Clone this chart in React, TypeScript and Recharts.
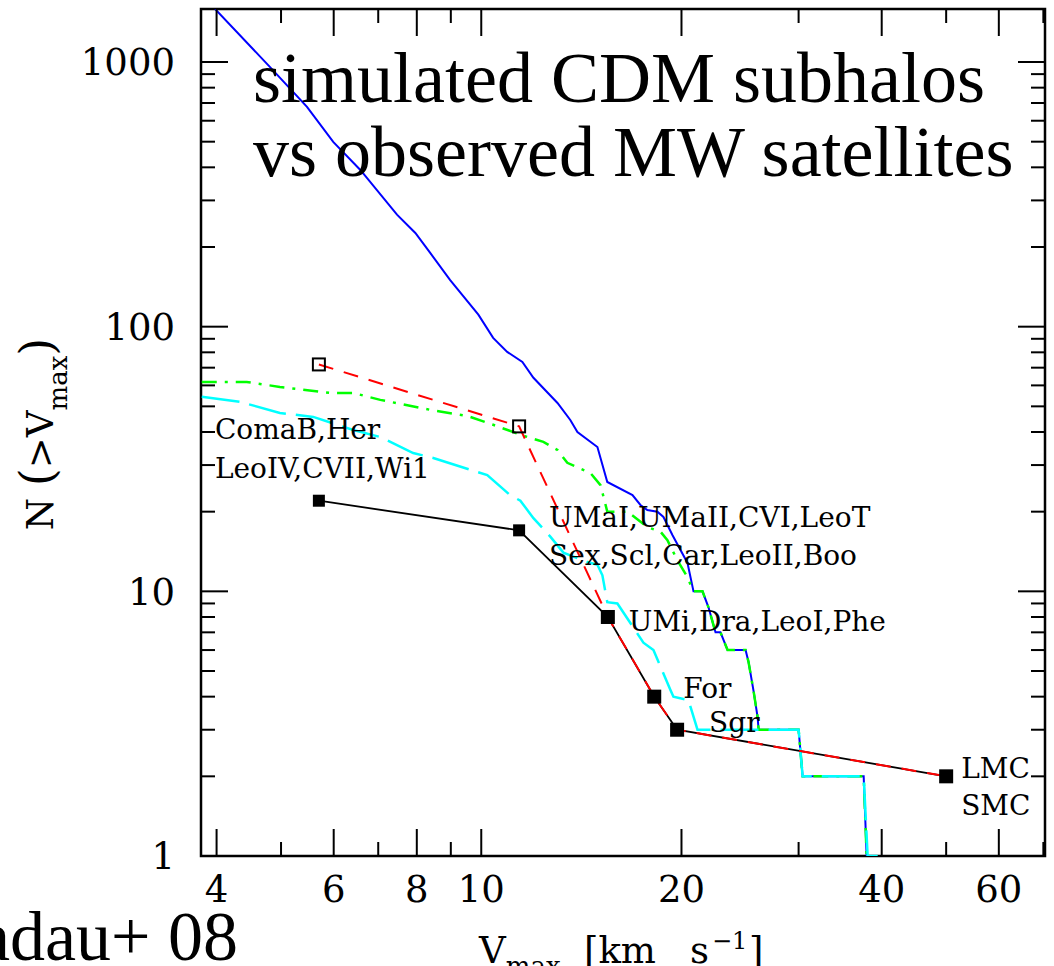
import React from 'react';
import { LineChart, Line, XAxis, YAxis, ReferenceArea } from 'recharts';

// Cumulative Vmax functions: simulated subhalos vs. Milky Way dwarfs
const X_DOMAIN: [number, number] = [3.79, 70.4];
const Y_DOMAIN: [number, number] = [1, 1586];

const xTicks = [4, 5, 6, 7, 8, 9, 10, 20, 30, 40, 50, 60, 70];
const xMajor = [4, 6, 8, 10, 20, 40, 60];
const yTicks = [
  1, 2, 3, 4, 5, 6, 7, 8, 9, 10, 20, 30, 40, 50, 60, 70, 80, 90, 100, 200, 300, 400, 500, 600,
  700, 800, 900, 1000,
];
const yMajor = [1, 10, 100, 1000];

// all subhalos (blue)
const subhaloV = [
  3.98, 4.81, 5.47, 5.99, 6.58, 7.47, 7.96, 8.38, 8.98, 9.9, 10.42, 10.94, 11.53, 11.98, 13.02,
  13.61, 13.95, 14.95, 15.47, 16.88, 17.35, 17.77, 18.4, 18.79, 19.39, 20.42, 20.85, 21.51, 21.96,
  22.5, 22.89, 23.46, 24.97, 25.23, 25.67, 26.03, 26.12, 30.0, 30.42, 37.58, 37.97,
];
const subhaloN = [
  1585, 959, 677, 499, 391, 265, 226, 190, 150, 111, 90.7, 80.3, 73.6, 64.1, 51.5, 44.4, 40.0,
  35.1, 25.9, 23.1, 21.2, 20.3, 20, 19.1, 16.3, 12.8, 10, 10, 8.7, 7, 7, 6, 6, 5.4, 4.2, 3.35, 3,
  3, 2, 2, 1,
];

// luminous subset, model A (green dot-dash)
const modelAV = [
  3.8, 4.44, 4.98, 5.93, 6.42, 7.05, 8.38, 9.53, 10.42, 11.57, 12.4, 13.02, 13.47, 14.59, 15.11,
  15.47, 16.59, 17.77, 18.6, 19.05, 19.72, 20.42, 20.85, 21.51, 21.96, 22.5, 22.89, 23.46, 24.97,
  25.23, 25.67, 26.03, 26.12, 30.0, 30.42, 37.58, 37.97,
];
const modelAN = [
  61.8, 61.8, 59.2, 56.2, 56.2, 52.9, 48.5, 46.0, 42.6, 38.7, 36.7, 34.2, 30.6, 28.0, 25.2, 20, 20,
  17.5, 16.8, 15.6, 13.1, 11.3, 10, 10, 8.7, 7, 7, 6, 6, 5.4, 4.2, 3.35, 3, 3, 2, 2, 1,
];

// luminous subset, model B (cyan long dash)
const modelBV = [
  3.8, 4.34, 4.98, 5.59, 6.42, 7.05, 7.9, 8.47, 10.21, 11.05, 11.45, 11.98, 12.7, 13.29, 14.44,
  14.95, 15.21, 15.47, 16.02, 17.53, 18.15, 19.25, 19.45, 20.49, 21.14, 30.0, 30.42, 37.58, 38.1,
  39.45,
];
const modelBN = [
  54.3, 52.0, 47.2, 45.6, 40.7, 38.3, 33.3, 31.9, 27.5, 23.1, 22.0, 18.9, 16.1, 14.0, 12.9, 12.6,
  11.5, 9.1, 9.0, 6.4, 6.0, 4.24, 4.0, 3.88, 3, 3, 2, 2, 1, 1,
];

// observed MW satellites (black) and sky-coverage corrected counts (red)
const satV = [5.7, 11.4, 15.5, 18.2, 19.7, 50];
const satN = [22, 17, 8, 4, 3, 2];
const corrN = [72, 42, 8, 4, 3, 2];
const satNames = [
  ['ComaB,Her', 'LeoIV,CVII,Wi1'],
  ['UMaI,UMaII,CVI,LeoT', 'Sex,Scl,Car,LeoII,Boo'],
  ['UMi,Dra,LeoI,Phe'],
  ['For'],
  ['Sgr'],
  ['LMC', 'SMC'],
];

// where each satellite group label sits relative to its point
const nameOffsets = [
  { dx: -104, dy: [-62, -23] },
  { dx: 30, dy: [-3, 35] },
  { dx: 21, dy: [14] },
  { dx: 29, dy: [1] },
  { dx: 32, dy: [2] },
  { dx: 15, dy: [2, 39] },
];

const zip = (v: number[], n: number[]) => v.map((x, i) => ({ v: x, n: n[i] }));

const W = 1054;
const H = 966;
const MARGIN = { top: 9, right: 9, left: 0, bottom: 0 };
const Y_AXIS_W = 201;
const X_AXIS_H = 110;
const PLOT_W = W - Y_AXIS_W - MARGIN.right;
const PLOT_H = H - MARGIN.top - X_AXIS_H;

const SERIF = '"DejaVu Serif", serif';
const TIMES = '"Liberation Serif", "Times New Roman", serif';

function XTick(props: any) {
  const { x, y, payload } = props;
  const len = xMajor.includes(payload.value) ? 27 : 14;
  return (
    <g>
      <line x1={x} x2={x} y1={y} y2={y - len} stroke="#000" strokeWidth={2} />
      <line x1={x} x2={x} y1={y - PLOT_H} y2={y - PLOT_H + len} stroke="#000" strokeWidth={2} />
      {xMajor.includes(payload.value) && (
        <text x={x} y={y + 46} textAnchor="middle" fontFamily={SERIF} fontSize={37} fill="#000">
          {payload.value}
        </text>
      )}
    </g>
  );
}

function YTick(props: any) {
  const { x, y, payload } = props;
  const len = yMajor.includes(payload.value) ? 27 : 14;
  return (
    <g>
      <line x1={x} x2={x + len} y1={y} y2={y} stroke="#000" strokeWidth={2} />
      <line x1={x + PLOT_W} x2={x + PLOT_W - len} y1={y} y2={y} stroke="#000" strokeWidth={2} />
      {yMajor.includes(payload.value) && (
        <text x={x - 26} y={y} dy="0.36em" textAnchor="end" fontFamily={SERIF} fontSize={37} fill="#000">
          {payload.value}
        </text>
      )}
    </g>
  );
}

function OpenSquare(p: any) {
  return (
    <rect key={`o-${p.index}`} x={p.cx - 6} y={p.cy - 6} width={12} height={12} fill="none" stroke="#000" strokeWidth={2} />
  );
}

// filled square plus the names of the satellites it adds
function SatMarker(p: any) {
  const off = nameOffsets[p.index];
  return (
    <g key={`s-${p.index}`}>
      <rect x={p.cx - 6} y={p.cy - 6} width={12} height={12} fill="#000" />
      {satNames[p.index].map((s, i) => (
        <text key={s} x={p.cx + off.dx} y={p.cy + off.dy[i]} fontFamily={SERIF} fontSize={28} fill="#000">
          {s}
        </text>
      ))}
    </g>
  );
}

export default function App() {
  return (
    <div style={{ position: 'absolute', left: 0, top: 0, width: W, height: H, background: '#fff', overflow: 'hidden' }}>
      <LineChart width={W} height={H} margin={MARGIN}>
        <XAxis
          dataKey="v"
          type="number"
          scale="log"
          domain={X_DOMAIN}
          allowDataOverflow
          ticks={xTicks}
          interval={0}
          height={X_AXIS_H}
          axisLine={false}
          tickLine={false}
          tickSize={0}
          tickMargin={0}
          tick={(p: any) => <XTick {...p} />}
        />
        <YAxis
          dataKey="n"
          type="number"
          scale="log"
          domain={Y_DOMAIN}
          allowDataOverflow
          ticks={yTicks}
          interval={0}
          width={Y_AXIS_W}
          axisLine={false}
          tickLine={false}
          tickSize={0}
          tickMargin={0}
          tick={(p: any) => <YTick {...p} />}
        />
        <Line data={zip(subhaloV, subhaloN)} dataKey="n" stroke="#0000ff" strokeWidth={2} dot={false} isAnimationActive={false} />
        <Line
          data={zip(modelAV, modelAN)}
          dataKey="n"
          stroke="#00ff00"
          strokeWidth={2.5}
          strokeDasharray="15 8 3 8"
          dot={false}
          isAnimationActive={false}
        />
        <Line
          data={zip(modelBV, modelBN)}
          dataKey="n"
          stroke="#00ffff"
          strokeWidth={2.5}
          strokeDasharray="38 10"
          dot={false}
          isAnimationActive={false}
        />
        <Line data={zip(satV, satN)} dataKey="n" stroke="#000" strokeWidth={1.8} dot={false} isAnimationActive={false} />
        <Line
          data={zip(satV, corrN)}
          dataKey="n"
          stroke="#ff0000"
          strokeWidth={2}
          strokeDasharray="15 11"
          dot={(p: any) => <OpenSquare {...p} />}
          isAnimationActive={false}
        />
        <Line
          data={zip(satV, satN)}
          dataKey="n"
          stroke="none"
          dot={(p: any) => <SatMarker {...p} />}
          isAnimationActive={false}
        />
        <ReferenceArea
          x1={X_DOMAIN[0]}
          x2={X_DOMAIN[1]}
          y1={Y_DOMAIN[0]}
          y2={Y_DOMAIN[1]}
          fill="none"
          fillOpacity={0}
          stroke="#000"
          strokeWidth={2.5}
          ifOverflow="visible"
        />
      </LineChart>
      <svg width={W} height={H} style={{ position: 'absolute', left: 0, top: 0, pointerEvents: 'none' }}>
        <text x={253} y={102} fontFamily={TIMES} fontSize={72} fill="#000">
          simulated CDM subhalos
        </text>
        <text x={253} y={176} fontFamily={TIMES} fontSize={72} fill="#000">
          vs observed MW satellites
        </text>
        <text x={238} y={960} textAnchor="end" fontFamily={TIMES} fontSize={70} fill="#000">
          Madau+ 08
        </text>
        <text transform="rotate(-90)" x={-434} y={53} textAnchor="middle" fontFamily={SERIF} fontSize={37} fill="#000">
          {'N '}
          <tspan fontSize={46}>(</tspan>
          <tspan>&gt;V</tspan>
          <tspan fontSize={26} dy={14}>
            max
          </tspan>
          <tspan fontSize={46} dy={-14}>)</tspan>
        </text>
        <text y={963} fontFamily={SERIF} fontSize={37} fill="#000">
          <tspan x={479}>V</tspan>
          <tspan fontSize={26} dy={12}>
            max
          </tspan>
          <tspan x={584} dy={-12}>[km</tspan>
          <tspan x={690}>s</tspan>
          <tspan x={712} fontSize={24} dy={-14}>
            −1
          </tspan>
          <tspan x={749} dy={14}>]</tspan>
        </text>
      </svg>
    </div>
  );
}
